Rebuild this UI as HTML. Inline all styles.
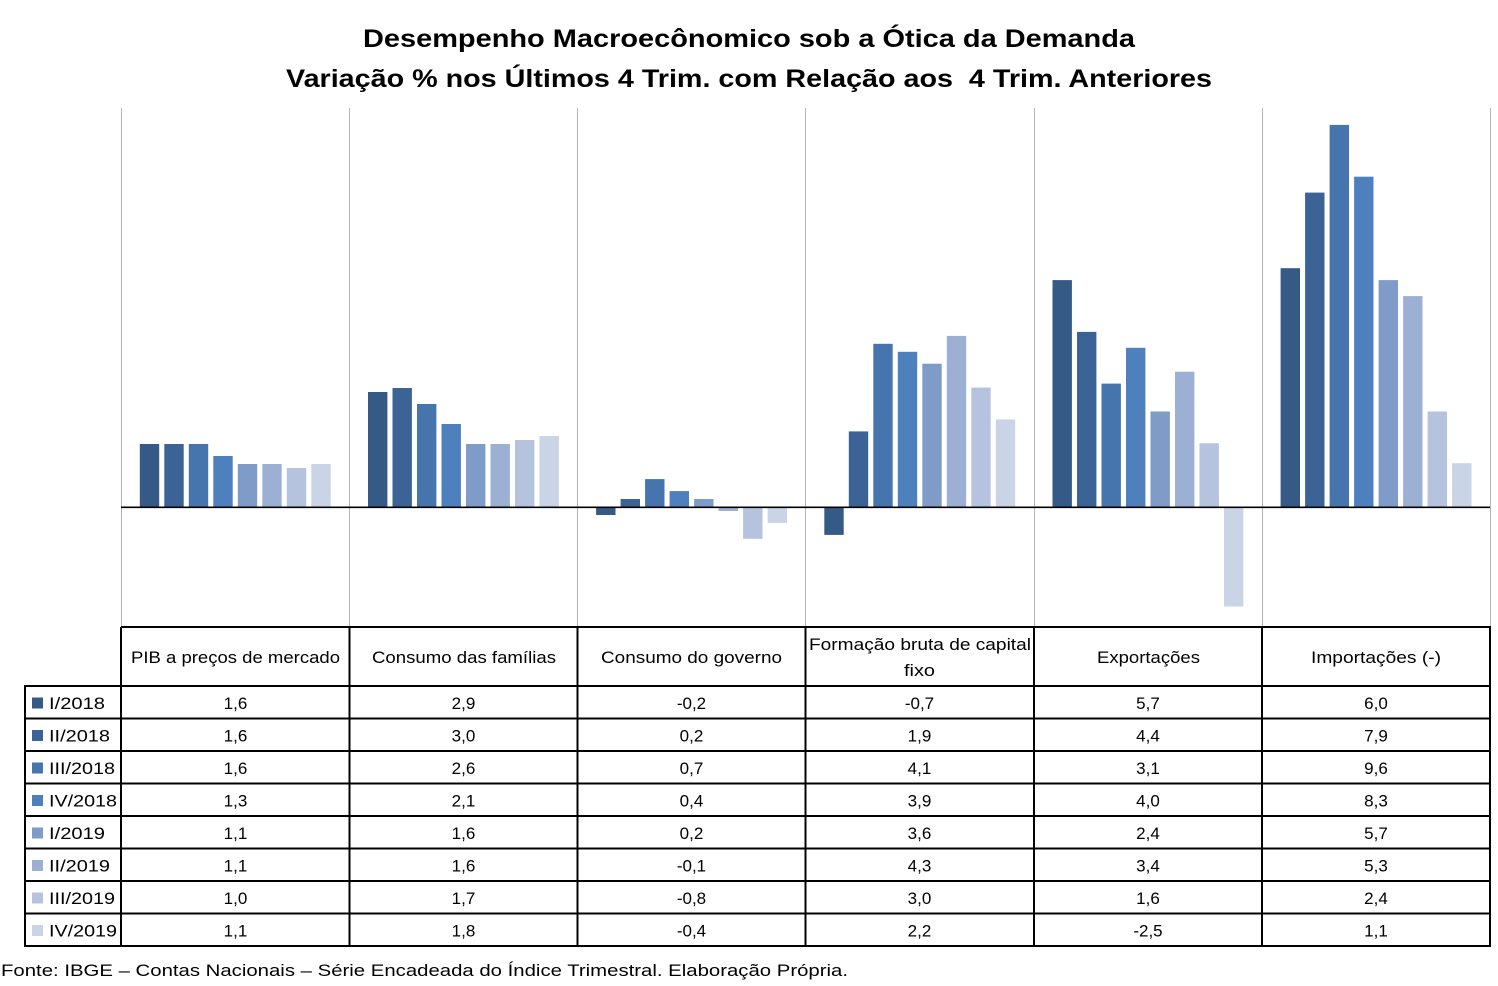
<!DOCTYPE html>
<html><head><meta charset="utf-8"><style>
html,body{margin:0;padding:0;background:#fff;}
svg{display:block;}
text{font-family:"Liberation Sans",Arial,sans-serif;fill:#000;}
.t{font-weight:bold;font-size:25px;}
.h{font-size:17px;}
.v{font-size:17px;text-anchor:middle;}
.l{font-size:17px;}
.c1{fill:#355a85}.c2{fill:#3b6396}.c3{fill:#4675ae}.c4{fill:#4d80bd}
.c5{fill:#7f9cc9}.c6{fill:#9cb0d4}.c7{fill:#b6c3df}.c8{fill:#cad4e7}
</style></head><body>
<svg width="1498" height="986" viewBox="0 0 1498 986" xmlns="http://www.w3.org/2000/svg">
<rect width="1498" height="986" fill="#fff"/>
<!-- Title -->
<text class="t" x="363" y="47" textLength="772" lengthAdjust="spacingAndGlyphs">Desempenho Macroecônomico sob a Ótica da Demanda</text>
<text class="t" x="286" y="87" textLength="926" lengthAdjust="spacingAndGlyphs" style="white-space:pre" xml:space="preserve">Variação % nos Últimos 4 Trim. com Relação aos  4 Trim. Anteriores</text>

<!-- gridlines -->
<g stroke="#b4b4b4" stroke-width="1">
<line x1="121.5" y1="108" x2="121.5" y2="626"/>
<line x1="349.5" y1="108" x2="349.5" y2="626"/>
<line x1="577.5" y1="108" x2="577.5" y2="626"/>
<line x1="805.5" y1="108" x2="805.5" y2="626"/>
<line x1="1034.5" y1="108" x2="1034.5" y2="626"/>
<line x1="1262.5" y1="108" x2="1262.5" y2="626"/>
<line x1="1490.5" y1="108" x2="1490.5" y2="626"/>
</g>

<!-- PIB -->
<rect class="c1" x="139.8" y="444" width="19.4" height="63"/>
<rect class="c2" x="164.3" y="444" width="19.4" height="63"/>
<rect class="c3" x="188.8" y="444" width="19.4" height="63"/>
<rect class="c4" x="213.3" y="456" width="19.4" height="51"/>
<rect class="c5" x="237.8" y="464" width="19.4" height="43"/>
<rect class="c6" x="262.3" y="464" width="19.4" height="43"/>
<rect class="c7" x="286.8" y="468" width="19.4" height="39"/>
<rect class="c8" x="311.3" y="464" width="19.4" height="43"/>
<!-- Consumo familias -->
<rect class="c1" x="368.0" y="392" width="19.4" height="115"/>
<rect class="c2" x="392.5" y="388" width="19.4" height="119"/>
<rect class="c3" x="417.0" y="404" width="19.4" height="103"/>
<rect class="c4" x="441.5" y="424" width="19.4" height="83"/>
<rect class="c5" x="466.0" y="444" width="19.4" height="63"/>
<rect class="c6" x="490.5" y="444" width="19.4" height="63"/>
<rect class="c7" x="515.0" y="440" width="19.4" height="67"/>
<rect class="c8" x="539.5" y="436" width="19.4" height="71"/>
<!-- Consumo governo -->
<rect class="c1" x="596.1" y="507" width="19.4" height="8"/>
<rect class="c2" x="620.6" y="499" width="19.4" height="8"/>
<rect class="c3" x="645.1" y="479.1" width="19.4" height="27.9"/>
<rect class="c4" x="669.6" y="491.1" width="19.4" height="15.9"/>
<rect class="c5" x="694.1" y="499" width="19.4" height="8"/>
<rect class="c6" x="718.6" y="507" width="19.4" height="4"/>
<rect class="c7" x="743.1" y="507" width="19.4" height="31.8"/>
<rect class="c8" x="767.6" y="507" width="19.4" height="15.9"/>
<!-- FBCF -->
<rect class="c1" x="824.3" y="507" width="19.4" height="27.9"/>
<rect class="c2" x="848.8" y="431.4" width="19.4" height="75.6"/>
<rect class="c3" x="873.3" y="343.8" width="19.4" height="163.2"/>
<rect class="c4" x="897.8" y="351.8" width="19.4" height="155.2"/>
<rect class="c5" x="922.3" y="363.7" width="19.4" height="143.3"/>
<rect class="c6" x="946.8" y="335.9" width="19.4" height="171.1"/>
<rect class="c7" x="971.3" y="387.6" width="19.4" height="119.4"/>
<rect class="c8" x="995.8" y="419.4" width="19.4" height="87.6"/>
<!-- Exportacoes -->
<rect class="c1" x="1052.5" y="280.1" width="19.4" height="226.9"/>
<rect class="c2" x="1077.0" y="331.9" width="19.4" height="175.1"/>
<rect class="c3" x="1101.5" y="383.6" width="19.4" height="123.4"/>
<rect class="c4" x="1126.0" y="347.8" width="19.4" height="159.2"/>
<rect class="c5" x="1150.5" y="411.5" width="19.4" height="95.5"/>
<rect class="c6" x="1175.0" y="371.7" width="19.4" height="135.3"/>
<rect class="c7" x="1199.5" y="443.3" width="19.4" height="63.7"/>
<rect class="c8" x="1224.0" y="507" width="19.4" height="99.5"/>
<!-- Importacoes -->
<rect class="c1" x="1280.6" y="268.2" width="19.4" height="238.8"/>
<rect class="c2" x="1305.1" y="192.6" width="19.4" height="314.4"/>
<rect class="c3" x="1329.6" y="124.9" width="19.4" height="382.1"/>
<rect class="c4" x="1354.1" y="176.7" width="19.4" height="330.3"/>
<rect class="c5" x="1378.6" y="280.1" width="19.4" height="226.9"/>
<rect class="c6" x="1403.1" y="296.1" width="19.4" height="210.9"/>
<rect class="c7" x="1427.6" y="411.5" width="19.4" height="95.5"/>
<rect class="c8" x="1452.1" y="463.2" width="19.4" height="43.8"/>

<!-- zero line -->
<line x1="121" y1="507.3" x2="1490" y2="507.3" stroke="#000" stroke-width="1.6"/>

<!-- table lines -->
<g stroke="#000" stroke-width="2" fill="none">
<line x1="121" y1="627" x2="1491" y2="627"/>
<line x1="24" y1="686" x2="1491" y2="686"/>
<line x1="24" y1="718.5" x2="1491" y2="718.5"/>
<line x1="24" y1="751" x2="1491" y2="751"/>
<line x1="24" y1="783.5" x2="1491" y2="783.5"/>
<line x1="24" y1="816" x2="1491" y2="816"/>
<line x1="24" y1="848.5" x2="1491" y2="848.5"/>
<line x1="24" y1="881" x2="1491" y2="881"/>
<line x1="24" y1="913.5" x2="1491" y2="913.5"/>
<line x1="24" y1="946" x2="1491" y2="946"/>
<line x1="25" y1="686" x2="25" y2="947"/>
<line x1="121" y1="627" x2="121" y2="947"/>
<line x1="349.5" y1="627" x2="349.5" y2="947"/>
<line x1="577.5" y1="627" x2="577.5" y2="947"/>
<line x1="805.5" y1="627" x2="805.5" y2="947"/>
<line x1="1034" y1="627" x2="1034" y2="947"/>
<line x1="1262" y1="627" x2="1262" y2="947"/>
<line x1="1490" y1="627" x2="1490" y2="947"/>
</g>

<!-- headers -->
<text class="h" x="131" y="663" textLength="209" lengthAdjust="spacingAndGlyphs">PIB a preços de mercado</text>
<text class="h" x="372" y="663" textLength="184" lengthAdjust="spacingAndGlyphs">Consumo das famílias</text>
<text class="h" x="601" y="663" textLength="181" lengthAdjust="spacingAndGlyphs">Consumo do governo</text>
<text class="h" x="809" y="650" textLength="222" lengthAdjust="spacingAndGlyphs">Formação bruta de capital</text>
<text class="h" x="904" y="676" textLength="31" lengthAdjust="spacingAndGlyphs">fixo</text>
<text class="h" x="1097" y="663" textLength="103" lengthAdjust="spacingAndGlyphs">Exportações</text>
<text class="h" x="1311" y="663" textLength="130" lengthAdjust="spacingAndGlyphs">Importações (-)</text>

<!-- legend -->
<rect class="c1" x="32" y="697.5" width="11" height="11"/>
<rect class="c2" x="32" y="730" width="11" height="11"/>
<rect class="c3" x="32" y="762.5" width="11" height="11"/>
<rect class="c4" x="32" y="795" width="11" height="11"/>
<rect class="c5" x="32" y="827.5" width="11" height="11"/>
<rect class="c6" x="32" y="860" width="11" height="11"/>
<rect class="c7" x="32" y="892.5" width="11" height="11"/>
<rect class="c8" x="32" y="925" width="11" height="11"/>
<text class="l" x="49" y="709" textLength="56" lengthAdjust="spacingAndGlyphs">I/2018</text>
<text class="l" x="49" y="741.5" textLength="61" lengthAdjust="spacingAndGlyphs">II/2018</text>
<text class="l" x="49" y="774" textLength="66" lengthAdjust="spacingAndGlyphs">III/2018</text>
<text class="l" x="49" y="806.5" textLength="68" lengthAdjust="spacingAndGlyphs">IV/2018</text>
<text class="l" x="49" y="839" textLength="56" lengthAdjust="spacingAndGlyphs">I/2019</text>
<text class="l" x="49" y="871.5" textLength="61" lengthAdjust="spacingAndGlyphs">II/2019</text>
<text class="l" x="49" y="904" textLength="66" lengthAdjust="spacingAndGlyphs">III/2019</text>
<text class="l" x="49" y="936.5" textLength="68" lengthAdjust="spacingAndGlyphs">IV/2019</text>

<!-- values -->
<g>
<text class="v" x="235.5" y="709">1,6</text><text class="v" x="463.5" y="709">2,9</text><text class="v" x="691.5" y="709">-0,2</text><text class="v" x="919.5" y="709">-0,7</text><text class="v" x="1148" y="709">5,7</text><text class="v" x="1376" y="709">6,0</text>
<text class="v" x="235.5" y="741.5">1,6</text><text class="v" x="463.5" y="741.5">3,0</text><text class="v" x="691.5" y="741.5">0,2</text><text class="v" x="919.5" y="741.5">1,9</text><text class="v" x="1148" y="741.5">4,4</text><text class="v" x="1376" y="741.5">7,9</text>
<text class="v" x="235.5" y="774">1,6</text><text class="v" x="463.5" y="774">2,6</text><text class="v" x="691.5" y="774">0,7</text><text class="v" x="919.5" y="774">4,1</text><text class="v" x="1148" y="774">3,1</text><text class="v" x="1376" y="774">9,6</text>
<text class="v" x="235.5" y="806.5">1,3</text><text class="v" x="463.5" y="806.5">2,1</text><text class="v" x="691.5" y="806.5">0,4</text><text class="v" x="919.5" y="806.5">3,9</text><text class="v" x="1148" y="806.5">4,0</text><text class="v" x="1376" y="806.5">8,3</text>
<text class="v" x="235.5" y="839">1,1</text><text class="v" x="463.5" y="839">1,6</text><text class="v" x="691.5" y="839">0,2</text><text class="v" x="919.5" y="839">3,6</text><text class="v" x="1148" y="839">2,4</text><text class="v" x="1376" y="839">5,7</text>
<text class="v" x="235.5" y="871.5">1,1</text><text class="v" x="463.5" y="871.5">1,6</text><text class="v" x="691.5" y="871.5">-0,1</text><text class="v" x="919.5" y="871.5">4,3</text><text class="v" x="1148" y="871.5">3,4</text><text class="v" x="1376" y="871.5">5,3</text>
<text class="v" x="235.5" y="904">1,0</text><text class="v" x="463.5" y="904">1,7</text><text class="v" x="691.5" y="904">-0,8</text><text class="v" x="919.5" y="904">3,0</text><text class="v" x="1148" y="904">1,6</text><text class="v" x="1376" y="904">2,4</text>
<text class="v" x="235.5" y="936.5">1,1</text><text class="v" x="463.5" y="936.5">1,8</text><text class="v" x="691.5" y="936.5">-0,4</text><text class="v" x="919.5" y="936.5">2,2</text><text class="v" x="1148" y="936.5">-2,5</text><text class="v" x="1376" y="936.5">1,1</text>
</g>

<!-- footer -->
<text class="l" x="1" y="976" textLength="847" lengthAdjust="spacingAndGlyphs">Fonte: IBGE – Contas Nacionais – Série Encadeada do Índice Trimestral. Elaboração Própria.</text>
</svg>
</body></html>
